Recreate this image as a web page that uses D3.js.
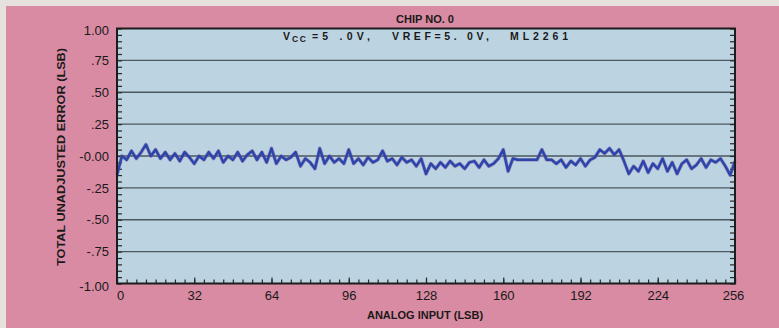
<!DOCTYPE html>
<html><head><meta charset="utf-8">
<script src="https://cdn.jsdelivr.net/npm/d3@7"></script>
<style>
html,body{margin:0;padding:0;background:#e8e2df;}
svg{display:block;}
text{font-family:"Liberation Sans",Arial,sans-serif;fill:#1a1a1a;}
</style></head>
<body>
<svg id="chart" width="779" height="328"></svg>
<script>
// ---- data ----
const codes = d3.range(0, 257, 2);
const errorLSB = [
 -0.15, 0.00,-0.03, 0.04,-0.02, 0.03, 0.09, 0.00, 0.05,-0.02, 0.03,-0.03, 0.02,-0.04, 0.03,-0.01,
 -0.06, 0.00,-0.03, 0.03,-0.02, 0.04,-0.05, 0.00,-0.03, 0.03,-0.04, 0.01, 0.04,-0.03, 0.03,-0.05,
  0.06,-0.06, 0.00,-0.03,-0.01, 0.03,-0.08,-0.02,-0.05,-0.10, 0.06,-0.06, 0.00,-0.05,-0.02,-0.06,
  0.05,-0.06,-0.02,-0.07,-0.01,-0.05,-0.03, 0.04,-0.04,-0.02,-0.07,-0.01,-0.05,-0.03,-0.08,-0.02,
 -0.14,-0.06,-0.10,-0.05,-0.09,-0.04,-0.08,-0.06,-0.10,-0.05,-0.04,-0.09,-0.03,-0.08,-0.06,-0.02,
  0.05,-0.12,-0.02,-0.03,-0.03,-0.03,-0.03,-0.03, 0.05,-0.03,-0.03,-0.06,-0.03,-0.09,-0.04,-0.07,
 -0.02,-0.08,-0.03,-0.01, 0.05, 0.02, 0.06, 0.01, 0.05,-0.04,-0.14,-0.08,-0.12,-0.04,-0.13,-0.06,
 -0.10,-0.02,-0.12,-0.05,-0.14,-0.06,-0.03,-0.10,-0.07,-0.02,-0.09,-0.03,-0.05,-0.02,-0.08,-0.15,-0.04
];
const xTicks = [0, 32, 64, 96, 128, 160, 192, 224, 256];
const yTicks = [-1, -0.75, -0.5, -0.25, 0, 0.25, 0.5, 0.75, 1];
const yTickLabels = ["-1.00", "-.75", "-.50", "-.25", "-0.00", ".25", ".50", ".75", "1.00"];
const gridValues = [-0.75, -0.5, -0.25, 0, 0.25, 0.5, 0.75];
const titleText = "CHIP NO. 0";
const xTitle = "ANALOG INPUT (LSB)";
const yTitle = "TOTAL UNADJUSTED ERROR (LSB)";

// ---- layout ----
const svg = d3.select("#chart");
const L = 117, R = 735, T = 28.5, B = 283.5;
const x = d3.scaleLinear().domain([0, 256]).range([L, R]);
const y = d3.scaleLinear().domain([-1, 1]).range([B, T]);

// backgrounds
svg.append("rect").attr("x", 0).attr("y", 0).attr("width", 779).attr("height", 328).attr("fill", "#e7e1de");
svg.append("rect").attr("x", 6).attr("y", 6).attr("width", 773).attr("height", 322).attr("fill", "#d98ba3");
svg.append("rect").attr("x", L).attr("y", T).attr("width", R - L).attr("height", B - T).attr("fill", "#bcd3e1");

// grid
svg.append("g").selectAll("line").data(gridValues).join("line")
  .attr("x1", L).attr("x2", R).attr("y1", d => y(d)).attr("y2", d => y(d))
  .attr("stroke", "#4b5961").attr("stroke-width", 1.3);

// minor ticks (inside)
function styleAxis(g) {
  g.select(".domain").remove();
  g.selectAll(".tick line").attr("stroke", "#2a2a2a").attr("stroke-width", 1.2);
}
const yMinor = d3.range(-1, 1.0001, 0.05);
svg.append("g").attr("transform", `translate(${L},0)`)
  .call(d3.axisLeft(y).tickValues(yMinor).tickSize(-5).tickFormat(""))
  .call(styleAxis);
svg.append("g").attr("transform", `translate(${R},0)`)
  .call(d3.axisRight(y).tickValues(yMinor).tickSize(-5).tickFormat(""))
  .call(styleAxis);
svg.append("g").attr("transform", `translate(0,${B})`)
  .call(d3.axisBottom(x).tickValues(d3.range(0, 257, 4)).tickSize(-4).tickFormat(""))
  .call(styleAxis);
svg.append("g").attr("transform", `translate(0,${B})`)
  .call(d3.axisBottom(x).tickValues(xTicks).tickSize(-6).tickFormat(""))
  .call(styleAxis);

// tick labels
const yAx = svg.append("g").attr("transform", `translate(${L},0)`)
  .call(d3.axisLeft(y).tickValues(yTicks).tickSize(0).tickPadding(8)
    .tickFormat(d => yTickLabels[yTicks.indexOf(d)]));
yAx.select(".domain").remove();
yAx.selectAll("text").attr("font-size", 13).attr("fill", "#1a1a1a")
  .attr("font-family", "'Liberation Sans', Arial, sans-serif");
yAx.selectAll(".tick").filter(d => d === -1).select("text").attr("dy", "0.5em");
yAx.selectAll(".tick").filter(d => d === 1).select("text").attr("dy", "0.45em");

const xAx = svg.append("g").attr("transform", `translate(0,${B})`)
  .call(d3.axisBottom(x).tickValues(xTicks).tickSize(0).tickPadding(7).tickFormat(d3.format("d")));
xAx.select(".domain").remove();
xAx.selectAll("text").attr("font-size", 13).attr("fill", "#1a1a1a")
  .attr("font-family", "'Liberation Sans', Arial, sans-serif");
xAx.selectAll(".tick").filter(d => d === 0).select("text").attr("dx", 3);
xAx.selectAll(".tick").filter(d => d === 256).select("text").attr("dx", -2);

// data line
const line = d3.line().x((d, i) => x(codes[i])).y(d => y(d));
svg.append("path").datum(errorLSB).attr("d", line)
  .attr("fill", "none").attr("stroke", "#8a4f9e").attr("stroke-width", 3.8)
  .attr("stroke-opacity", 0.45).attr("stroke-linejoin", "round");
svg.append("path").datum(errorLSB).attr("d", line)
  .attr("fill", "none").attr("stroke", "#2a46aa").attr("stroke-width", 2.5)
  .attr("stroke-linejoin", "round");

// plot border
svg.append("rect").attr("x", L).attr("y", T).attr("width", R - L).attr("height", B - T)
  .attr("fill", "none").attr("stroke", "#1c1c1c").attr("stroke-width", 2);

// titles
svg.append("text").attr("x", 425).attr("y", 22.5).attr("text-anchor", "middle")
  .attr("font-size", 11).attr("font-weight", "bold").text(titleText);

svg.append("text").attr("x", 283).attr("y", 40).attr("font-size", 10.5).attr("font-weight", "bold").text("V");
svg.append("text").attr("x", 292).attr("y", 42).attr("font-size", 8.5).attr("font-weight", "bold")
  .attr("textLength", 14).attr("lengthAdjust", "spacing").text("CC");
svg.append("text").attr("x", 312).attr("y", 40).attr("font-size", 10.5).attr("font-weight", "bold")
  .attr("textLength", 58).attr("lengthAdjust", "spacing").text("=5 .0V,");
svg.append("text").attr("x", 392).attr("y", 40).attr("font-size", 10.5).attr("font-weight", "bold")
  .attr("textLength", 97).attr("lengthAdjust", "spacing").text("VREF=5. 0V,");
svg.append("text").attr("x", 510).attr("y", 40).attr("font-size", 10.5).attr("font-weight", "bold")
  .attr("textLength", 58).attr("lengthAdjust", "spacing").text("ML2261");

svg.append("text").attr("x", 425).attr("y", 319).attr("text-anchor", "middle")
  .attr("font-size", 11).attr("font-weight", "bold").text(xTitle);
svg.append("text").attr("transform", "translate(65,157) rotate(-90)").attr("text-anchor", "middle")
  .attr("font-size", 11.5).attr("font-weight", "bold")
  .attr("textLength", 218).attr("lengthAdjust", "spacingAndGlyphs").text(yTitle);
</script>
</body></html>
